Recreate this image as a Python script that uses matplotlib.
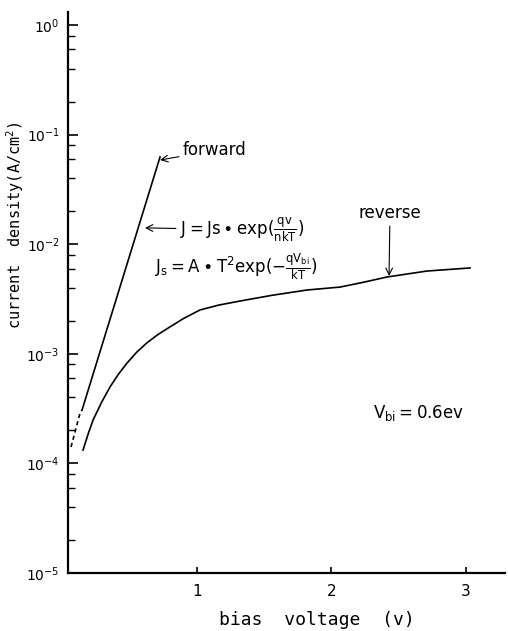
import matplotlib
matplotlib.use('Agg')
import matplotlib.pyplot as plt
from matplotlib.ticker import LogLocator, NullFormatter, FixedLocator

plt.rcParams['font.family'] = ['DejaVu Sans']
plt.rcParams['mathtext.default'] = 'regular'

# forward branch (dashed start, then straight line)
fwd_dash_v = [0.063, 0.130, 0.145]
fwd_dash_j = [1.41e-4, 2.88e-4, 3.07e-4]
fwd_v = [0.145, 0.725]
fwd_j = [3.07e-4, 6.25e-2]

# reverse branch
rev_v = [0.152, 0.190, 0.227, 0.290, 0.353, 0.415, 0.480, 0.550, 0.628, 0.710, 0.799,
         0.900, 1.022, 1.160, 1.320, 1.560, 1.818, 2.063, 2.240, 2.413, 2.710, 3.030]
rev_j = [1.32e-4, 1.85e-4, 2.49e-4, 3.60e-4, 4.98e-4, 6.50e-4, 8.24e-4, 1.03e-3, 1.26e-3,
         1.50e-3, 1.76e-3, 2.10e-3, 2.51e-3, 2.78e-3, 3.03e-3, 3.42e-3, 3.82e-3, 4.06e-3,
         4.50e-3, 5.02e-3, 5.69e-3, 6.07e-3]

x_ticks = [1, 2, 3]

fig = plt.figure(figsize=(5.08, 6.31), dpi=100)
ax = fig.add_axes([0.134, 0.092, 0.860, 0.889])

ax.plot(fwd_dash_v, fwd_dash_j, color='black', lw=1.2, ls=(0, (2.5, 2)))
ax.plot(fwd_v, fwd_j, color='black', lw=1.2)
ax.plot(rev_v, rev_j, color='black', lw=1.2)

ax.set_yscale('log')
ax.set_xlim(0.041, 3.29)
ax.set_ylim(1e-5, 10 ** 0.119)

ax.spines['top'].set_visible(False)
ax.spines['right'].set_visible(False)
ax.spines['left'].set_linewidth(1.6)
ax.spines['bottom'].set_linewidth(1.6)

ax.set_xticks(x_ticks)
ax.set_xticklabels([str(t) for t in x_ticks])
ax.yaxis.set_major_locator(FixedLocator([1e-5, 1e-4, 1e-3, 1e-2, 1e-1, 1e0]))
ax.yaxis.set_minor_locator(LogLocator(base=10, subs=(2, 4, 6, 8)))
ax.yaxis.set_minor_formatter(NullFormatter())
ax.tick_params(axis='y', which='major', direction='in', length=7, width=1.2, labelsize=10, pad=6)
ax.tick_params(axis='y', which='minor', direction='in', length=5, width=1.0)
ax.tick_params(axis='x', which='major', direction='in', length=4, width=1.2, labelsize=11, pad=8)

arrow = dict(arrowstyle='->', color='black', lw=0.8, shrinkA=1, shrinkB=0)
ax.annotate('forward', xy=(0.725, 0.0586), xytext=(0.896, 0.072), fontsize=12,
            va='center', ha='left', arrowprops=arrow)
ax.annotate(r'$J = Js\bullet exp(\frac{qv}{nkT})$', xy=(0.613, 0.0141), xytext=(0.874, 0.0135),
            fontsize=12, va='center', ha='left', arrowprops=arrow)
ax.text(0.688, 6.19e-3, r'$J_s = A\bullet T^2 exp(-\frac{qV_{bi}}{kT})$', fontsize=12,
        va='center', ha='left')
ax.annotate('reverse', xy=(2.428, 5.13e-3), xytext=(2.435, 0.0193), fontsize=12,
            va='center', ha='center', arrowprops=arrow)
ax.text(2.309, 2.88e-4, r'$V_{bi} = 0.6ev$', fontsize=12, va='center', ha='left')

fig.text(0.030, 0.643, 'current  density(A/cm$^2$)', rotation=90, fontsize=11,
         family='DejaVu Sans Mono', ha='center', va='center')
fig.text(0.624, 0.017, 'bias  voltage  (v)', fontsize=13, family='DejaVu Sans Mono',
         ha='center', va='center')

fig.savefig('out.png', dpi=100)
